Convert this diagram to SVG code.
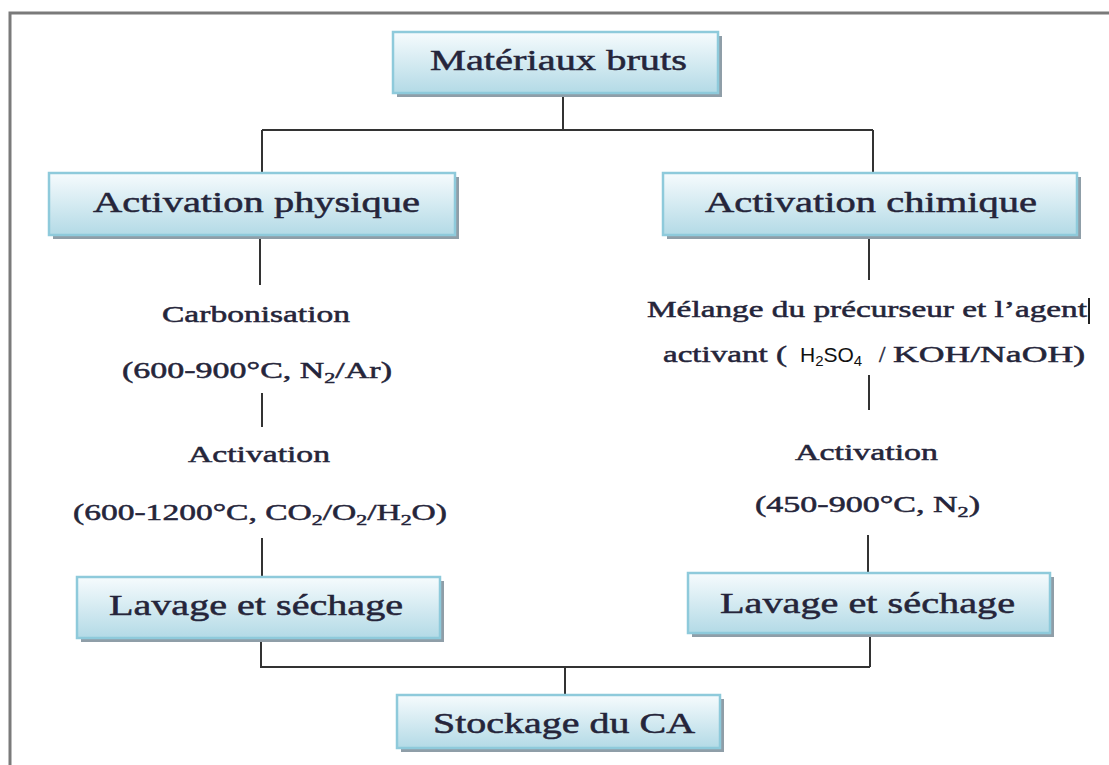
<svg xmlns="http://www.w3.org/2000/svg" width="1109" height="765" viewBox="0 0 1109 765">
<defs>
<linearGradient id="g" x1="0" y1="0" x2="0" y2="1">
<stop offset="0" stop-color="#f6fbfd"/>
<stop offset="1" stop-color="#b3dae6"/>
</linearGradient>
<style>
.box{fill:url(#g);stroke:#8ecadb;stroke-width:2.5}
.sh{fill:#8f9ea8}
.shd{fill:none;stroke:#c9d6de;stroke-width:1.5;stroke-dasharray:3 4}
.t{font-family:"Liberation Serif","Times New Roman",serif;fill:#25253a;stroke:#25253a;stroke-width:0.5}
.big{font-size:30px}
.mid{font-size:23px}
.sans{font-family:"Liberation Sans",Arial,sans-serif;font-size:21px;fill:#111}
.c{fill:none;stroke:#333;stroke-width:2}
</style>
</defs>
<rect width="1109" height="765" fill="#fff"/>
<path d="M10 765 V13 H1109" fill="none" stroke="#7a7a7a" stroke-width="3"/>

<g id="connectors">
<path class="c" d="M563 97 V130 M262 130 H873 M262 130 V173 M873 130 V173"/>
<path class="c" d="M260 239 V285 M262 393 V427 M262 538 V577"/>
<path class="c" d="M869 239 V280 M869 375 V410 M868 535 V573"/>
<path class="c" d="M261 641 V667 H870 M870 637 V667 M565 667 V695"/>
</g>

<g id="materiaux">
<rect class="sh" x="397" y="36" width="325" height="61"/>
<rect class="box" x="393" y="32" width="325" height="61"/>
<text class="t big" x="430" y="70" textLength="257" lengthAdjust="spacingAndGlyphs">Matériaux bruts</text>
</g>

<g id="act-phys">
<rect class="sh" x="53" y="177" width="406" height="62"/>
<rect class="box" x="49" y="173" width="406" height="62"/>
<text class="t big" x="93" y="212" textLength="327" lengthAdjust="spacingAndGlyphs">Activation physique</text>
</g>

<g id="act-chim">
<rect class="sh" x="667" y="177" width="414" height="62"/>
<rect class="box" x="663" y="173" width="414" height="62"/>
<text class="t big" x="705" y="212" textLength="332" lengthAdjust="spacingAndGlyphs">Activation chimique</text>
</g>

<g id="carbonisation">
<text class="t mid" x="162" y="322" textLength="188" lengthAdjust="spacingAndGlyphs">Carbonisation</text>
<text class="t mid" x="122" y="378" textLength="270" lengthAdjust="spacingAndGlyphs">(600-900°C, N<tspan font-size="15" dy="5">2</tspan><tspan dy="-5">/Ar)</tspan></text>
</g>

<g id="activation-phys">
<text class="t mid" x="188" y="462" textLength="142" lengthAdjust="spacingAndGlyphs">Activation</text>
<text class="t mid" x="73" y="520" textLength="374" lengthAdjust="spacingAndGlyphs">(600-1200°C, CO<tspan font-size="15" dy="5">2</tspan><tspan dy="-5">/O</tspan><tspan font-size="15" dy="5">2</tspan><tspan dy="-5">/H</tspan><tspan font-size="15" dy="5">2</tspan><tspan dy="-5">O)</tspan></text>
</g>

<g id="melange">
<text class="t mid" x="647" y="317" textLength="440" lengthAdjust="spacingAndGlyphs">Mélange du précurseur et l’agent</text>
<line x1="1089" y1="298" x2="1089" y2="324" stroke="#222" stroke-width="2"/>
<text class="t mid" x="663" y="362" textLength="124" lengthAdjust="spacingAndGlyphs">activant (</text>
<text class="sans" x="800" y="362">H<tspan font-size="15" dy="4">2</tspan><tspan dy="-4">SO</tspan><tspan font-size="15" dy="4">4</tspan></text>
<text class="t mid" x="879" y="362">/</text>
<text class="t mid" x="893" y="362" textLength="192" lengthAdjust="spacingAndGlyphs">KOH/NaOH)</text>
</g>

<g id="activation-chim">
<text class="t mid" x="795" y="460" textLength="143" lengthAdjust="spacingAndGlyphs">Activation</text>
<text class="t mid" x="755" y="512" textLength="225" lengthAdjust="spacingAndGlyphs">(450-900°C, N<tspan font-size="15" dy="5">2</tspan><tspan dy="-5">)</tspan></text>
</g>

<g id="lavage-1">
<rect class="sh" x="81" y="581" width="363" height="61"/>
<rect class="box" x="77" y="577" width="363" height="61"/>
<text class="t big" x="109" y="615" textLength="294" lengthAdjust="spacingAndGlyphs">Lavage et séchage</text>
</g>

<g id="lavage-2">
<rect class="sh" x="692" y="577" width="362" height="60"/>
<rect class="box" x="688" y="573" width="362" height="60"/>
<text class="t big" x="720" y="613" textLength="295" lengthAdjust="spacingAndGlyphs">Lavage et séchage</text>
</g>

<g id="stockage">
<rect class="sh" x="401" y="699" width="323" height="53"/>
<rect class="box" x="397" y="695" width="323" height="53"/>
<text class="t big" x="433" y="733" textLength="262" lengthAdjust="spacingAndGlyphs">Stockage du CA</text>
</g>
</svg>
